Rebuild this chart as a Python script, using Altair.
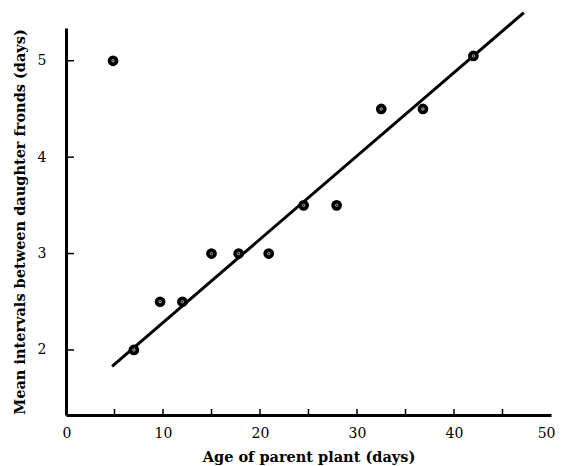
import altair as alt
import pandas as pd

ages = [4.85, 7.0, 9.7, 12.0, 15.0, 17.8, 20.9, 24.5, 27.9, 32.5, 36.8, 42.0]
intervals = [5.0, 2.0, 2.5, 2.5, 3.0, 3.0, 3.0, 3.5, 3.5, 4.5, 4.5, 5.05]
fit_x = [4.75, 47.2]
fit_y = [1.83, 5.50]
x_label_values = [0, 10, 20, 30, 40, 50]
x_tick_values = [5, 10, 15, 20, 25, 30, 35, 40, 45]
y_tick_values = [2, 3, 4, 5]

W, H = 485, 387
FONT = "DejaVu Serif"

pts = pd.DataFrame({"age": ages, "interval": intervals})
fit = pd.DataFrame({"age": fit_x, "interval": fit_y})
xt = pd.DataFrame({"age": x_tick_values})
yt = pd.DataFrame({"interval": y_tick_values})

xs = alt.Scale(domain=[0, 50], nice=False, zero=False)
ys = alt.Scale(domain=[1.325, 5.34], nice=False, zero=False)

xaxis = alt.Axis(title="Age of parent plant (days)", values=x_label_values, format="d",
                 tickSize=0, grid=False, domain=True, domainWidth=3, domainColor="black",
                 labelFlush=True, labelFlushOffset=4, labelPadding=11, labelFont=FONT,
                 labelFontSize=14, labelColor="black", titleFont=FONT, titleFontSize=14.5,
                 titleFontWeight="bold", titleColor="black", titlePadding=10)
yaxis = alt.Axis(title="Mean intervals between daughter fronds (days)", values=y_tick_values,
                 format="d", tickSize=0, grid=False, domain=True, domainWidth=3,
                 domainColor="black", labelFlush=False, labelPadding=20, labelFont=FONT,
                 labelFontSize=14, labelColor="black", titleFont=FONT, titleFontSize=14.5,
                 titleFontWeight="bold", titleColor="black", titlePadding=10)

X = alt.X("age:Q", scale=xs, axis=xaxis)
Y = alt.Y("interval:Q", scale=ys, axis=yaxis)

line = alt.Chart(fit).mark_line(color="black", strokeWidth=3).encode(x=X, y=Y)
dots = alt.Chart(pts).mark_circle(color="black", size=115, opacity=1).encode(x=X, y=Y)
inner = alt.Chart(pts).mark_point(color="white", size=6, strokeWidth=1, opacity=0.7).encode(x=X, y=Y)
xticks = alt.Chart(xt).mark_rule(color="black", strokeWidth=1.5).encode(
    x=X, y=alt.value(H), y2=alt.value(H - 6))
yticks = alt.Chart(yt).mark_rule(color="black", strokeWidth=1.5).encode(
    y=Y, x=alt.value(0), x2=alt.value(8))

chart = alt.layer(line, xticks, yticks, dots, inner).properties(
    width=W, height=H,
    autosize=alt.AutoSizeParams(type="none"),
    padding={"left": 58, "top": 20, "right": 5, "bottom": 50},
    background="white",
).configure_view(stroke=None)

chart.save("out.html", embed_options={"renderer": "svg", "actions": False})
